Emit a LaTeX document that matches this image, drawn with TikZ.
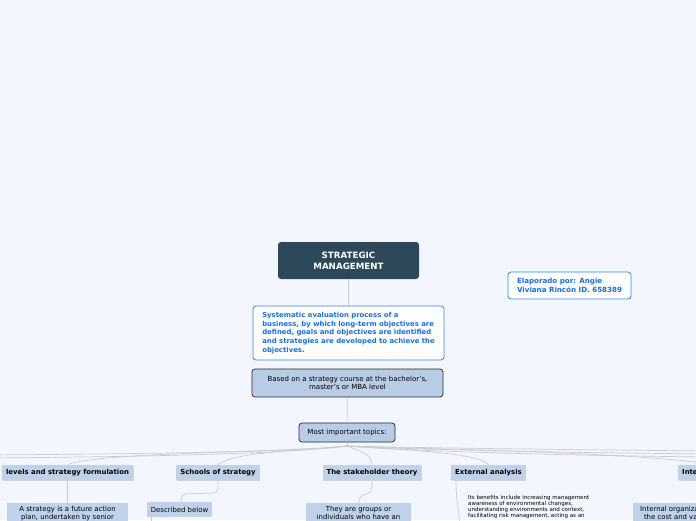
\documentclass[tikz,border=0pt]{standalone}
\usepackage{fontspec}
\setmainfont{DejaVu Sans}
\usepackage{xcolor}
\usepackage{tikz}
\usetikzlibrary{shadows}

\definecolor{canvas}{RGB}{243,246,254}
\definecolor{titleblue}{RGB}{45,72,88}
\definecolor{noteblue}{RGB}{52,132,232}
\definecolor{notetext}{RGB}{26,112,222}
\definecolor{boxblue}{RGB}{184,205,229}
\definecolor{topicblue}{RGB}{192,210,234}
\definecolor{linegray}{RGB}{204,204,208}

\tikzset{
	mainbox/.style={fill=titleblue, rounded corners=3pt, text=white, align=center,
		font=\bfseries\fontsize{8.7}{11.3}\selectfont, minimum width=141pt, minimum height=37pt},
	notebox/.style={draw=noteblue, fill=white, rounded corners=3pt, line width=0.8pt,
		text=notetext, align=left},
	framedbox/.style={draw=black!85, fill=boxblue, rounded corners=3pt, line width=0.7pt,
		align=center, font=\fontsize{7}{8}\selectfont},
	topicbox/.style={fill=topicblue, inner xsep=4pt, minimum height=15pt,
		font=\bfseries\fontsize{6.9}{8}\selectfont,
		drop shadow={shadow xshift=0.6pt, shadow yshift=-0.8pt, fill=black!30, opacity=0.5}},
	leafbox/.style={fill=topicblue, align=center, inner ysep=3pt,
		font=\fontsize{6.9}{7.8}\selectfont},
	branch/.style={draw=linegray, line width=0.7pt},
}

\begin{document}
\begin{tikzpicture}[x=1pt,y=-1pt]
		% Canvas
		\fill[canvas] (0,0) rectangle (696,520);
		\useasboundingbox (0,0) rectangle (696,520);
		\clip (0,0) rectangle (696,520);
		% Central topic and notes
		\node[mainbox] (title) at (348.5,260.5) {STRATEGIC\\MANAGEMENT};
		\node[notebox, minimum width=191pt, minimum height=54pt,
			font=\bfseries\fontsize{6.9}{8.6}\selectfont] (goal) at (348.5,333)
			{Systematic evaluation process of a\\
			 business, by which long-term objectives are\\
			 defined, goals and objectives are identified\\
			 and strategies are developed to achieve the\\
			 objectives.};
		\node[notebox, minimum width=123pt, minimum height=27pt,
			font=\bfseries\fontsize{7.1}{9}\selectfont] (author) at (569.5,285.5)
			{Elaporado por: Angie\\Viviana Rincón ID. 658389};
		\node[framedbox, minimum width=191pt, minimum height=28pt] (basis) at (347.5,383)
			{Based on a strategy course at the bachelor's,\\master's or MBA level};
		\node[framedbox, minimum width=96pt, minimum height=19pt] (topics) at (347,432.5)
			{Most important topics:};
		% Main branches
		\node[topicbox, minimum width=131pt] (levels) at (67.5,472.5) {levels and strategy formulation};
		\node[topicbox, minimum width=82pt] (schools) at (218,472.5) {Schools of strategy};
		\node[topicbox, minimum width=98pt] (stake) at (372,472.5) {The stakeholder theory};
		\node[topicbox, minimum width=73pt] (external) at (488.5,472.5) {External analysis};
		\node[topicbox, anchor=west] (internal) at (678,472.5) {Internal analysis};
		% Sub-topics
		\node[leafbox, minimum width=121pt, anchor=north] (plan) at (67.5,503)
			{A strategy is a future action\\plan, undertaken by senior};
		\node[leafbox, minimum width=65pt, minimum height=15pt, inner ysep=0pt] (described) at (179.5,509.5)
			{Described below};
		\node[leafbox, minimum width=105pt, anchor=north] (groups) at (358.5,503)
			{They are groups or\\individuals who have an};
		\node[leafbox, inner xsep=7pt, anchor=north west] (organiz) at (633,503)
			{Internal organization\\the cost and value};
		\node[anchor=north west, inner sep=0pt, align=left,
			font=\fontsize{5.5}{6}\selectfont] (benefits) at (468,495)
			{Its benefits include increasing management\\
			 awareness of environmental changes,\\
			 understanding environments and context,\\
			 facilitating risk management, acting as an};
		% Free ends of branches running off the page
		\coordinate (hub) at (347,446);
		\coordinate (offL1) at (-10,455);
		\coordinate (offL2) at (-10,458);
		\coordinate (offR1) at (710,451);
		\coordinate (offR2) at (710,454);
		\coordinate (offR3) at (710,457);
		\coordinate (offD1) at (151,530);
		\coordinate (offD2) at (460,530);
		% Connectors
		\draw[branch] (title) -- (goal);
		\draw[branch] (basis) -- (topics);
		\draw[branch] (topics.south) -- (hub);
		\draw[branch] (hub) .. controls (300,452) and (95,452) .. (levels.north);
		\draw[branch] (hub) .. controls (280,453) and (100,454) .. (offL1);
		\draw[branch] (hub) .. controls (280,455) and (100,457) .. (offL2);
		\draw[branch] (hub) .. controls (300,451) and (232,452) .. (schools.north);
		\draw[branch] (hub) .. controls (360,451) and (372,454) .. (stake.north);
		\draw[branch] (hub) .. controls (400,450) and (478,452) .. (external.north);
		\draw[branch] (hub) .. controls (420,449) and (640,452) .. (internal.north);
		\draw[branch] (hub) .. controls (420,448) and (600,450) .. (offR1);
		\draw[branch] (hub) .. controls (420,450) and (600,453) .. (offR2);
		\draw[branch] (hub) .. controls (420,452) and (600,456) .. (offR3);
		\draw[branch] (levels) -- (plan);
		\draw[branch, rounded corners=5pt] (schools.south) -- (218,493) -- (181,494) -- (181,502);
		\draw[branch] (151,517) -- (offD1);
		\draw[branch, rounded corners=5pt] (stake.south) -- (372,493) -- (360,495) -- (groups.north);
		\draw[branch] (456,480) .. controls (456,500) and (459,510) .. (offD2);
\end{tikzpicture}
\end{document}
